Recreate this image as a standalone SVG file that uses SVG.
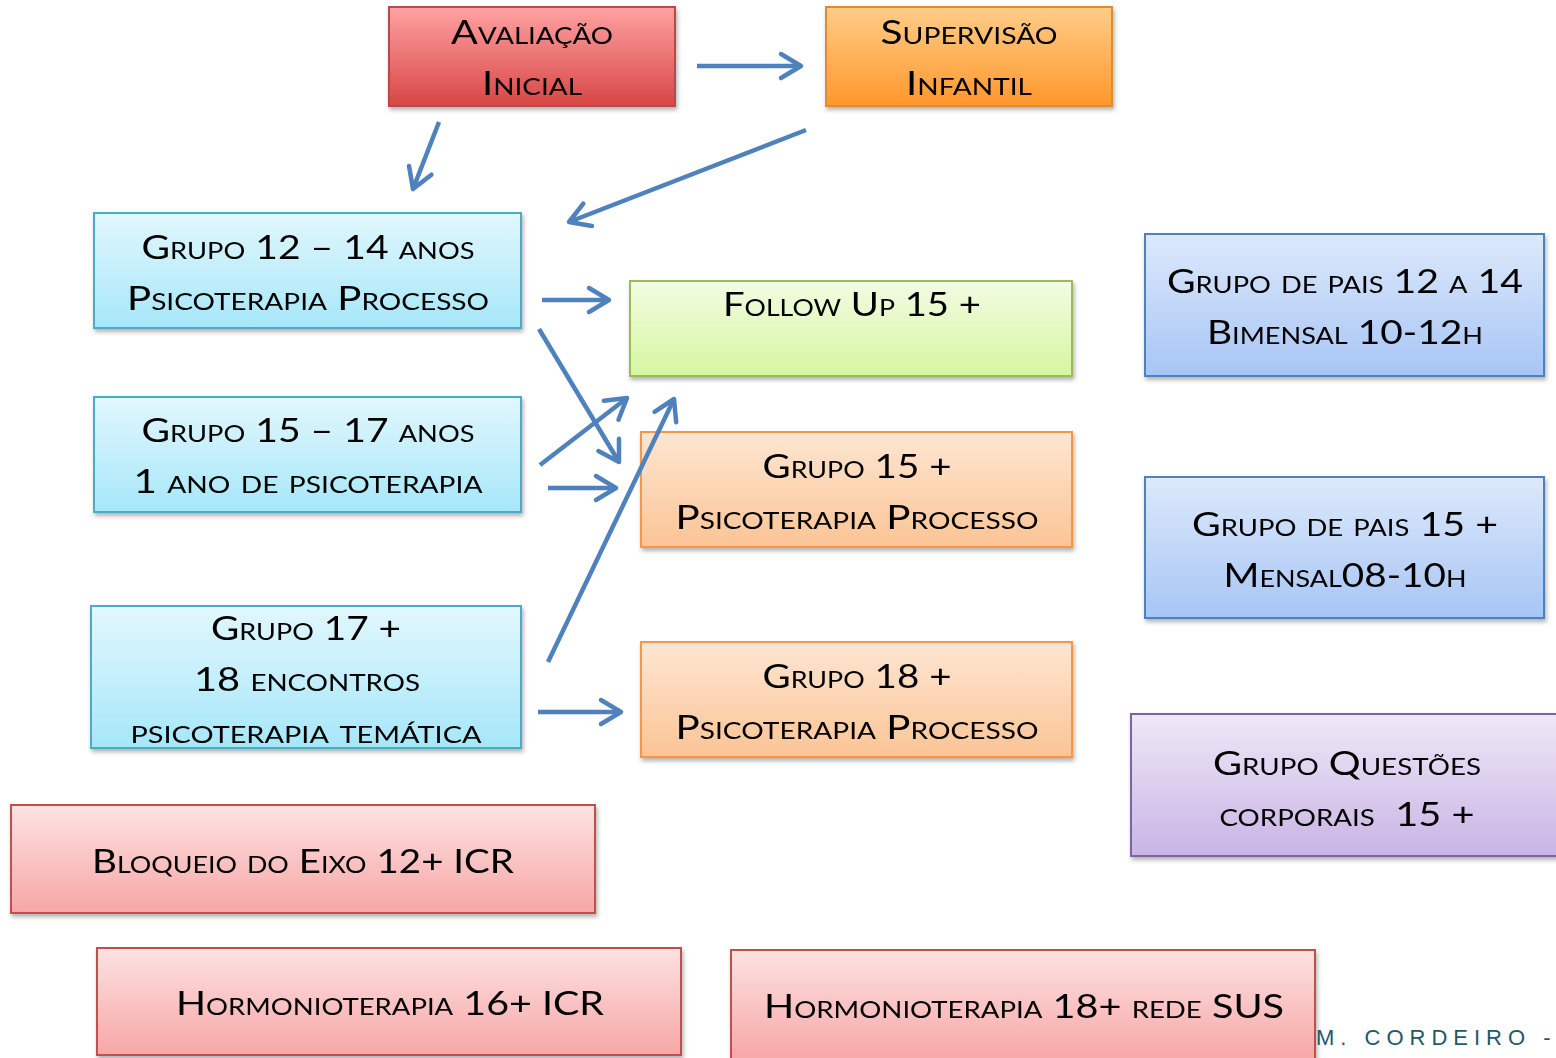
<svg xmlns="http://www.w3.org/2000/svg" width="1556" height="1058" viewBox="0 0 1556 1058">
<defs>
<style>
text{font-family:Lato,"Liberation Sans",sans-serif;font-size:33px;font-variant:small-caps;fill:#000;text-anchor:middle}
.box{stroke-width:2}
.conn line{stroke:#4f81bd;stroke-width:4.5;fill:none;marker-end:url(#ah)}
.foot{font-family:"Liberation Sans",sans-serif;font-variant:normal;font-size:22px;letter-spacing:6px;fill:#215968;text-anchor:start}
</style>
<linearGradient id="gRed" x1="0" y1="0" x2="0" y2="1"><stop offset="0" stop-color="#ffa2a2"/><stop offset="1" stop-color="#d84646"/></linearGradient>
<linearGradient id="gOrg" x1="0" y1="0" x2="0" y2="1"><stop offset="0" stop-color="#ffcd88"/><stop offset="1" stop-color="#ff972c"/></linearGradient>
<linearGradient id="gCyan" x1="0" y1="0" x2="0" y2="1"><stop offset="0" stop-color="#e2f7fd"/><stop offset="1" stop-color="#a6e7f9"/></linearGradient>
<linearGradient id="gGreen" x1="0" y1="0" x2="0" y2="1"><stop offset="0" stop-color="#f2fce2"/><stop offset="1" stop-color="#d6f6a0"/></linearGradient>
<linearGradient id="gPeach" x1="0" y1="0" x2="0" y2="1"><stop offset="0" stop-color="#fde6d2"/><stop offset="1" stop-color="#fbc495"/></linearGradient>
<linearGradient id="gBlue" x1="0" y1="0" x2="0" y2="1"><stop offset="0" stop-color="#dde9fb"/><stop offset="1" stop-color="#a7c5f5"/></linearGradient>
<linearGradient id="gPurp" x1="0" y1="0" x2="0" y2="1"><stop offset="0" stop-color="#efe8f7"/><stop offset="1" stop-color="#c9b4e5"/></linearGradient>
<linearGradient id="gPink" x1="0" y1="0" x2="0" y2="1"><stop offset="0" stop-color="#fde2e2"/><stop offset="1" stop-color="#f7a6a6"/></linearGradient>
<filter id="sh" x="-10%" y="-10%" width="120%" height="130%"><feDropShadow dx="1.5" dy="3" stdDeviation="2" flood-color="#000" flood-opacity="0.3"/></filter>
<marker id="ah" markerUnits="userSpaceOnUse" markerWidth="34" markerHeight="34" viewBox="-26 -17 30 34" refX="0" refY="0" orient="auto">
<path d="M-20,-12 L0,0 L-20,12" fill="none" stroke="#4f81bd" stroke-width="4.5" stroke-linecap="round" stroke-linejoin="round"/>
</marker>
</defs>
<rect width="1556" height="1058" fill="#fff"/>

<g id="n-avaliacao" filter="url(#sh)">
<rect class="box" x="389" y="7" width="286" height="99" fill="url(#gRed)" stroke="#b94a48"/>
<text x="532" y="44" textLength="162" lengthAdjust="spacingAndGlyphs">Avaliação</text>
<text x="532" y="95" textLength="100" lengthAdjust="spacingAndGlyphs">Inicial</text>
</g>
<g id="n-supervisao" filter="url(#sh)">
<rect class="box" x="826" y="7" width="286" height="99" fill="url(#gOrg)" stroke="#e08a30"/>
<text x="969" y="44" textLength="177" lengthAdjust="spacingAndGlyphs">Supervisão</text>
<text x="969" y="95" textLength="126" lengthAdjust="spacingAndGlyphs">Infantil</text>
</g>

<g id="n-g1214" filter="url(#sh)">
<rect class="box" x="94" y="213" width="427" height="115" fill="url(#gCyan)" stroke="#4bacc6"/>
<text x="308" y="259" textLength="333" lengthAdjust="spacingAndGlyphs">Grupo 12 – 14 anos</text>
<text x="308" y="310" textLength="362" lengthAdjust="spacingAndGlyphs">Psicoterapia Processo</text>
</g>
<g id="n-g1517" filter="url(#sh)">
<rect class="box" x="94" y="397" width="427" height="115" fill="url(#gCyan)" stroke="#4bacc6"/>
<text x="308" y="442" textLength="333" lengthAdjust="spacingAndGlyphs">Grupo 15 – 17 anos</text>
<text x="308" y="493" textLength="349" lengthAdjust="spacingAndGlyphs">1 ano de psicoterapia</text>
</g>
<g id="n-g17" filter="url(#sh)">
<rect class="box" x="91" y="606" width="430" height="142" fill="url(#gCyan)" stroke="#4bacc6"/>
<text x="306" y="640" textLength="190" lengthAdjust="spacingAndGlyphs">Grupo 17 +</text>
<text x="307" y="691" textLength="226" lengthAdjust="spacingAndGlyphs">18 encontros</text>
<text x="306" y="743" textLength="351" lengthAdjust="spacingAndGlyphs">psicoterapia temática</text>
</g>

<g id="n-follow" filter="url(#sh)">
<rect class="box" x="630" y="281" width="442" height="95" fill="url(#gGreen)" stroke="#9bbb59"/>
<text x="852" y="316" textLength="258" lengthAdjust="spacingAndGlyphs">Follow Up 15 +</text>
</g>
<g id="n-g15" filter="url(#sh)">
<rect class="box" x="641" y="432" width="431" height="115" fill="url(#gPeach)" stroke="#f79646"/>
<text x="857" y="478" textLength="189" lengthAdjust="spacingAndGlyphs">Grupo 15 +</text>
<text x="857" y="529" textLength="363" lengthAdjust="spacingAndGlyphs">Psicoterapia Processo</text>
</g>
<g id="n-g18" filter="url(#sh)">
<rect class="box" x="641" y="642" width="431" height="115" fill="url(#gPeach)" stroke="#f79646"/>
<text x="857" y="688" textLength="189" lengthAdjust="spacingAndGlyphs">Grupo 18 +</text>
<text x="857" y="739" textLength="363" lengthAdjust="spacingAndGlyphs">Psicoterapia Processo</text>
</g>

<g id="n-pais1214" filter="url(#sh)">
<rect class="box" x="1145" y="234" width="399" height="142" fill="url(#gBlue)" stroke="#4f81bd"/>
<text x="1345" y="293" textLength="356" lengthAdjust="spacingAndGlyphs">Grupo de pais 12 a 14</text>
<text x="1345" y="344" textLength="276" lengthAdjust="spacingAndGlyphs">Bimensal 10-12h</text>
</g>
<g id="n-pais15" filter="url(#sh)">
<rect class="box" x="1145" y="477" width="399" height="141" fill="url(#gBlue)" stroke="#4f81bd"/>
<text x="1345" y="536" textLength="306" lengthAdjust="spacingAndGlyphs">Grupo de pais 15 +</text>
<text x="1345" y="587" textLength="243" lengthAdjust="spacingAndGlyphs">Mensal08-10h</text>
</g>
<g id="n-questoes" filter="url(#sh)">
<rect class="box" x="1131" y="714" width="432" height="142" fill="url(#gPurp)" stroke="#8064a2"/>
<text x="1347" y="775" textLength="268" lengthAdjust="spacingAndGlyphs">Grupo Questões</text>
<text x="1347" y="826" textLength="255" lengthAdjust="spacingAndGlyphs" xml:space="preserve">corporais  15 +</text>
</g>

<g id="n-bloqueio" filter="url(#sh)">
<rect class="box" x="11" y="805" width="584" height="108" fill="url(#gPink)" stroke="#c0504d"/>
<text x="303" y="873" textLength="422" lengthAdjust="spacingAndGlyphs">Bloqueio do Eixo 12+ ICR</text>
</g>
<g id="n-horm16" filter="url(#sh)">
<rect class="box" x="97" y="948" width="584" height="107" fill="url(#gPink)" stroke="#c0504d"/>
<text x="390" y="1015" textLength="428" lengthAdjust="spacingAndGlyphs">Hormonioterapia 16+ ICR</text>
</g>
<g id="n-horm18" filter="url(#sh)">
<rect class="box" x="731" y="950" width="584" height="110" fill="url(#gPink)" stroke="#c0504d"/>
<text x="1024" y="1018" textLength="520" lengthAdjust="spacingAndGlyphs">Hormonioterapia 18+ rede SUS</text>
</g>

<g id="connectors" class="conn">
<line x1="697" y1="66" x2="801" y2="66"/>
<line x1="439" y1="122" x2="413" y2="189"/>
<line x1="806" y1="130" x2="569" y2="222"/>
<line x1="542" y1="300" x2="609" y2="300"/>
<line x1="539" y1="329" x2="619" y2="462"/>
<line x1="540" y1="465" x2="627" y2="398"/>
<line x1="548" y1="488" x2="616" y2="488"/>
<line x1="548" y1="662" x2="674" y2="399"/>
<line x1="538" y1="712" x2="621" y2="712"/>
</g>

<text class="foot" x="1316" y="1045">M. CORDEIRO -</text>
</svg>
